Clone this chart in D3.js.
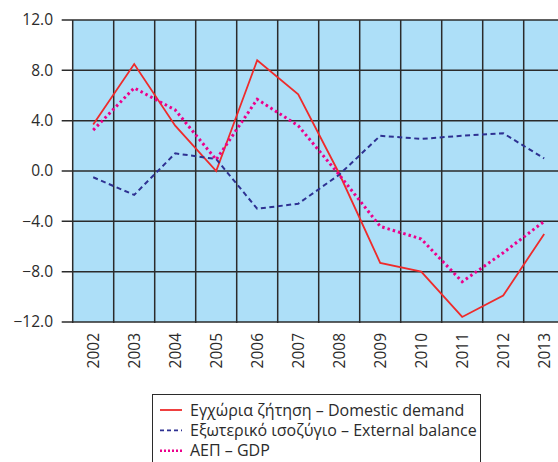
<!DOCTYPE html>
<html lang="el">
<head>
    <meta charset="UTF-8">
    <script src="https://cdn.jsdelivr.net/npm/d3@7/dist/d3.min.js"></script>
    <title>Domestic demand, external balance, GDP</title>
    <style>
        body { margin: 0; background: #fff; }
        svg { display: block; font-family: "Open Sans", sans-serif; }
        .grid line { stroke: #2b2b2b; stroke-width: 1.5px; }
        .tick-label { fill: #2b2b2b; font-size: 15.5px; }
        .legend text { fill: #2b2b2b; font-size: 16px; }
    </style>
</head>
<body>
<svg id="chart"></svg>
<script>
    var years = ["2002", "2003", "2004", "2005", "2006", "2007", "2008", "2009", "2010", "2011", "2012", "2013"];
    var domesticDemand = [3.7, 8.5, 3.6, 0.0, 8.8, 6.1, -0.2, -7.3, -8.0, -11.6, -9.9, -5.0];
    var externalBalance = [-0.5, -1.9, 1.4, 0.95, -3.0, -2.6, -0.3, 2.8, 2.55, 2.8, 3.0, 1.0];
    var gdp = [3.25, 6.6, 4.85, 0.9, 5.7, 3.6, -0.3, -4.4, -5.4, -8.8, -6.5, -4.0];
    var yTicks = [-12, -8, -4, 0, 4, 8, 12];

    var series = [
        {name: "Εγχώρια ζήτηση – Domestic demand", values: domesticDemand, color: "#ee2b2b", width: 1.8, dash: null},
        {name: "Εξωτερικό ισοζύγιο – External balance", values: externalBalance, color: "#2e3192", width: 2, dash: "5,3.5"},
        {name: "ΑΕΠ – GDP", values: gdp, color: "#ec008c", width: 3, dash: "2.5,3"}
    ];

    var width = 558, height = 462;
    var plotLeft = 72.7, plotTop = 20, plotBottom = 322, bandW = 41;

    var svg = d3.select("#chart")
            .attr("width", width)
            .attr("height", height);

    var x = d3.scaleBand()
            .domain(years)
            .range([plotLeft, plotLeft + bandW * years.length])
            .padding(0);

    var y = d3.scaleLinear()
            .domain([-12, 12])
            .range([plotBottom, plotTop]);

    // plot background
    svg.append("rect")
            .attr("x", plotLeft)
            .attr("y", plotTop)
            .attr("width", x.range()[1] - plotLeft)
            .attr("height", plotBottom - plotTop)
            .attr("fill", "#addff8");

    var grid = svg.append("g").attr("class", "grid");

    // horizontal grid lines, stretched left to form the tick marks
    grid.selectAll("line.h")
            .data(yTicks)
            .enter().append("line")
            .attr("class", "h")
            .attr("x1", plotLeft - 11)
            .attr("x2", x.range()[1])
            .attr("y1", function (d) { return y(d); })
            .attr("y2", function (d) { return y(d); });

    // vertical grid lines at band edges
    var edges = years.map(function (d) { return x(d); });
    edges.push(x.range()[1]);
    grid.selectAll("line.v")
            .data(edges)
            .enter().append("line")
            .attr("class", "v")
            .attr("x1", function (d) { return d; })
            .attr("x2", function (d) { return d; })
            .attr("y1", plotTop)
            .attr("y2", plotBottom + 1);

    // y labels
    svg.append("g")
            .selectAll("text")
            .data(yTicks)
            .enter().append("text")
            .attr("class", "tick-label")
            .attr("x", 53)
            .attr("y", function (d) { return y(d); })
            .attr("dy", "0.35em")
            .attr("text-anchor", "end")
            .text(function (d) { return d3.format(".1f")(d); });

    // x labels, rotated
    svg.append("g")
            .selectAll("text")
            .data(years)
            .enter().append("text")
            .attr("class", "tick-label")
            .attr("transform", function (d) {
                return "translate(" + (x(d) + x.bandwidth() / 2) + "," + (plotBottom + 11) + ") rotate(-90)";
            })
            .attr("dy", "0.35em")
            .attr("text-anchor", "end")
            .text(function (d) { return d; });

    var line = d3.line()
            .x(function (d, i) { return x(years[i]) + x.bandwidth() / 2; })
            .y(function (d) { return y(d); });

    svg.append("g")
            .selectAll("path")
            .data(series)
            .enter().append("path")
            .attr("d", function (d) { return line(d.values); })
            .attr("fill", "none")
            .attr("stroke", function (d) { return d.color; })
            .attr("stroke-width", function (d) { return d.width; })
            .attr("stroke-dasharray", function (d) { return d.dash; })
            .attr("stroke-linejoin", "miter");

    // legend
    var legend = svg.append("g").attr("class", "legend");
    legend.append("rect")
            .attr("x", 152.5)
            .attr("y", 394.5)
            .attr("width", 328)
            .attr("height", 80)
            .attr("fill", "#fff")
            .attr("stroke", "#2b2b2b")
            .attr("stroke-width", 1);

    var item = legend.selectAll("g.item")
            .data(series)
            .enter().append("g")
            .attr("class", "item")
            .attr("transform", function (d, i) { return "translate(0," + (410 + i * 20.4) + ")"; });

    item.append("line")
            .attr("x1", 160)
            .attr("x2", 182)
            .attr("stroke", function (d) { return d.color; })
            .attr("stroke-width", function (d) { return d.width === 3 ? 2.5 : 1.8; })
            .attr("stroke-dasharray", function (d) { return d.dash ? (d.width === 3 ? "2,2" : "4,3") : null; });

    item.append("text")
            .attr("x", 190)
            .attr("dy", "0.35em")
            .text(function (d) { return d.name; });
</script>
</body>
</html>
